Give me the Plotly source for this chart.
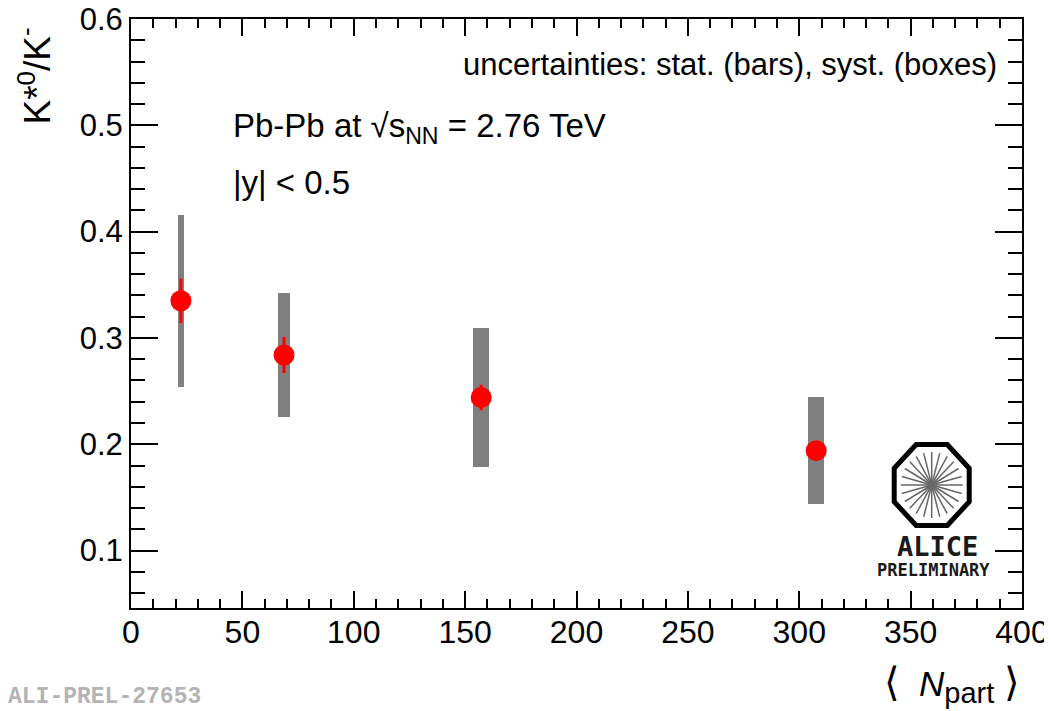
import numpy as np
import plotly.graph_objects as go

# ---- data ----
npart = [22.4, 68.7, 157.2, 307.6]
ratio = [0.335, 0.284, 0.244, 0.194]
stat_err = [0.021, 0.017, 0.012, 0.005]
syst_err = [0.081, 0.058, 0.065, 0.050]
syst_width = [2.4, 5.1, 7.2, 6.9]
x_ticks = [0, 50, 100, 150, 200, 250, 300, 350, 400]
y_ticks = [0.1, 0.2, 0.3, 0.4, 0.5, 0.6]

# page body has an 8px margin; lay the figure out so the screen positions match
OFF = 8
W, H = 1044, 703
ML, MR, MT, MB = 123, 30, 11, 103
PW = W - ML - MR
PH = H - MT - MB

def px(xs):
    return (xs - OFF - ML) / PW

def py(ys):
    return (H - MB - (ys - OFF)) / PH

FONT = "Liberation Sans, Arial, Helvetica, sans-serif"

fig = go.Figure()

# systematic boxes
fig.add_trace(go.Bar(
    x=npart,
    y=[2 * s for s in syst_err],
    base=[r - s for r, s in zip(ratio, syst_err)],
    width=syst_width,
    marker=dict(color="#808080", line=dict(width=0)),
    showlegend=False,
    hoverinfo="skip",
))

# points with stat errors
fig.add_trace(go.Scatter(
    x=npart, y=ratio, mode="markers",
    marker=dict(color="#ff0000", size=21, line=dict(width=0)),
    error_y=dict(type="data", array=stat_err, color="#ff0000", thickness=3, width=0),
    showlegend=False,
))

axis_common = dict(
    showline=True, linecolor="black", linewidth=2,
    mirror="allticks", ticks="inside", tickcolor="black", tickwidth=2,
    showgrid=False, zeroline=False, automargin=False, ticklabeloverflow="allow",
)

fig.update_xaxes(
    range=[0, 400], tickvals=x_ticks, ticktext=[str(v) for v in x_ticks],
    ticklen=17, ticklabelstandoff=-5,
    minor=dict(dtick=10, tick0=0, ticks="inside", ticklen=9, tickwidth=2, tickcolor="black", showgrid=False),
    tickfont=dict(family=FONT, size=32, color="black"),
    **axis_common,
)
fig.update_yaxes(
    range=[0.046, 0.6], tickvals=y_ticks, ticktext=[f"{v:.1f}" for v in y_ticks],
    ticklen=27,
    minor=dict(dtick=0.02, tick0=0, ticks="inside", ticklen=14, tickwidth=2, tickcolor="black", showgrid=False),
    tickfont=dict(family=FONT, size=31, color="black"),
    **axis_common,
)

BR = "<span style='font-family:DejaVu Sans;font-size:40px'>%s</span>"
annotations = [
    dict(text="uncertainties: stat. (bars), syst. (boxes)", x=px(999), y=py(65),
         xanchor="right", yanchor="middle", font=dict(family=FONT, size=31, color="black")),
    dict(text="Pb-Pb at √s<sub>NN</sub> = 2.76 TeV", x=px(231), y=py(128),
         xanchor="left", yanchor="middle", font=dict(family=FONT, size=33, color="black")),
    dict(text="|y| < 0.5", x=px(231), y=py(183),
         xanchor="left", yanchor="middle", font=dict(family=FONT, size=33, color="black")),
    dict(text="K*<sup>0</sup>/K<sup>-</sup>", x=px(35), y=py(26), textangle=-90,
         xanchor="center", yanchor="top", font=dict(family=FONT, size=37, color="black")),
    dict(text=(BR % "⟨") + "  <i>N</i><sub><span style='font-size:29px'>part</span></sub> " + (BR % "⟩"),
         x=px(1022), y=py(684),
         xanchor="right", yanchor="middle", font=dict(family=FONT, size=35, color="black")),
    dict(text="<b>ALI-PREL-27653</b>", x=px(6), y=py(697),
         xanchor="left", yanchor="middle", font=dict(family="Liberation Mono, Courier New, monospace", size=23, color="#b4b4b4")),
    dict(text="<b>ALICE</b>", x=px(937), y=py(546),
         xanchor="center", yanchor="middle", font=dict(family="DejaVu Sans Mono, monospace", size=27, color="#1a1a1a")),
    dict(text="<b>PRELIMINARY</b>", x=px(933), y=py(570),
         xanchor="center", yanchor="middle", font=dict(family="DejaVu Sans Mono, monospace", size=17, color="#1a1a1a")),
]
for a in annotations:
    a.update(xref="paper", yref="paper", showarrow=False)

# ALICE logo (decoration): octagon + spokes
cx, cy = 931.7, 485.0
rx, ry = 37.5, 40.5
shapes = []
angs = [np.pi / 8 + k * np.pi / 4 for k in range(8)]
pts = [(px(cx + rx / np.cos(np.pi / 8) * np.cos(a)), py(cy - ry / np.cos(np.pi / 8) * np.sin(a))) for a in angs]
path = "M " + " L ".join(f"{x:.5f},{y:.5f}" for x, y in pts) + " Z"
shapes.append(dict(type="path", path=path, xref="paper", yref="paper",
                   line=dict(color="black", width=5), fillcolor="rgba(0,0,0,0)"))
for k in range(12):
    a = k * np.pi / 12
    r1x, r1y = 31, 33
    shapes.append(dict(type="line", xref="paper", yref="paper",
                       x0=px(cx - r1x * np.cos(a)), y0=py(cy - r1y * np.sin(a)),
                       x1=px(cx + r1x * np.cos(a)), y1=py(cy + r1y * np.sin(a)),
                       line=dict(color="#666666", width=1.5)))

fig.update_layout(
    width=W, height=H,
    margin=dict(l=ML, r=MR, t=MT, b=MB, pad=0, autoexpand=False),
    plot_bgcolor="white", paper_bgcolor="white",
    annotations=annotations, shapes=shapes,
    bargap=0, showlegend=False,
)

fig.write_html("out.html")
